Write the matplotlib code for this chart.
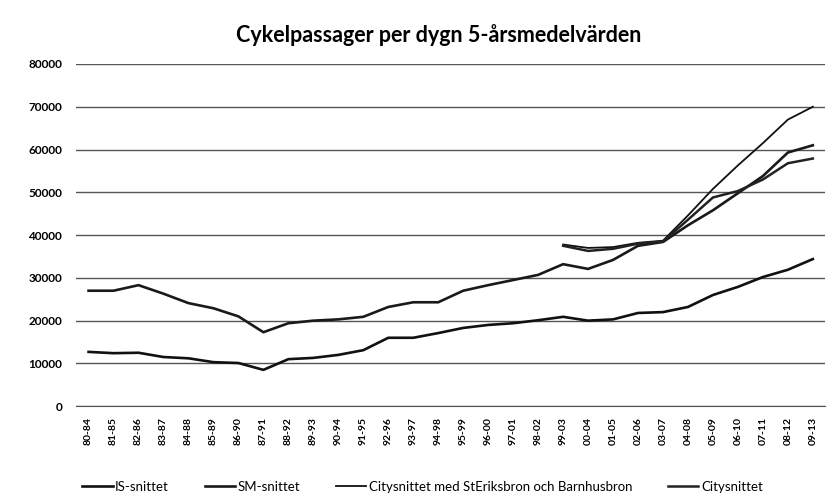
import numpy as np
import matplotlib.pyplot as plt

nan = np.nan

periods = ["80-84", "81-85", "82-86", "83-87", "84-88", "85-89", "86-90", "87-91",
           "88-92", "89-93", "90-94", "91-95", "92-96", "93-97", "94-98", "95-99",
           "96-00", "97-01", "98-02", "99-03", "00-04", "01-05", "02-06", "03-07",
           "04-08", "05-09", "06-10", "07-11", "08-12", "09-13"]

is_snittet = [12700, 12400, 12500, 11500, 11200, 10300, 10100, 8500,
              11000, 11300, 12000, 13100, 16000, 16000, 17100, 18300,
              19000, 19400, 20100, 20900, 20000, 20300, 21800, 22000,
              23200, 26000, 27900, 30200, 31900, 34400]

sm_snittet = [27000, 27000, 28300, 26300, 24100, 22900, 21000, 17300,
              19400, 20000, 20300, 20900, 23200, 24300, 24300, 27000,
              28300, 29500, 30700, 33200, 32100, 34200, 37500, 38400,
              42300, 45800, 49800, 53800, 59300, 61000]

city_med = [nan] * 19 + [37800, 37000, 37200, 38200, 38700,
                         44600, 50800, 56300, 61500, 67000, 70000]

city = [nan] * 19 + [37500, 36300, 36800, 38000, 38500,
                     43600, 48800, 50300, 53000, 56800, 57900]

series_names = ["IS-snittet", "SM-snittet",
                "Citysnittet med StEriksbron och Barnhusbron", "Citysnittet"]

plt.rcParams['font.family'] = ['Lato', 'DejaVu Sans']

fig = plt.figure(figsize=(8.27, 4.96), dpi=100)
ax = fig.add_axes([0.092, 0.181, 0.906, 0.690])

x = np.arange(len(periods))
ax.plot(x, is_snittet, color='#111111', lw=1.9, label=series_names[0])
ax.plot(x, sm_snittet, color='#1a1a1a', lw=1.9, label=series_names[1])
ax.plot(x, city_med, color='#111111', lw=1.3, label=series_names[2])
ax.plot(x, city, color='#222222', lw=1.8, label=series_names[3])

ax.set_xlim(-0.5, len(periods) - 0.5)
ax.set_ylim(0, 80000)
ax.set_yticks(np.arange(0, 80001, 10000))
ax.set_yticklabels([str(v) for v in range(0, 80001, 10000)], fontsize=8.5, fontweight='bold')
ax.set_xticks(x)
ax.set_xticklabels(periods, rotation=90, fontsize=7.5, fontweight='bold')
ax.tick_params(axis='both', length=0, pad=10)
ax.tick_params(axis='x', pad=8)

ax.grid(axis='y', color='#555555', lw=1.0)
ax.set_axisbelow(True)
for s in ['top', 'right', 'left']:
    ax.spines[s].set_visible(False)
ax.spines['bottom'].set_color('#555555')

fig.text(0.53, 0.93, "Cykelpassager per dygn 5-årsmedelvärden",
         ha='center', va='center', fontsize=15.5, fontweight='bold')

fig.legend(loc='center', bbox_to_anchor=(0.511, 0.018), ncol=4, frameon=False,
           fontsize=9.5, handlelength=2.3, columnspacing=2.7, handletextpad=0.2)

fig.savefig("out.png", dpi=100)
